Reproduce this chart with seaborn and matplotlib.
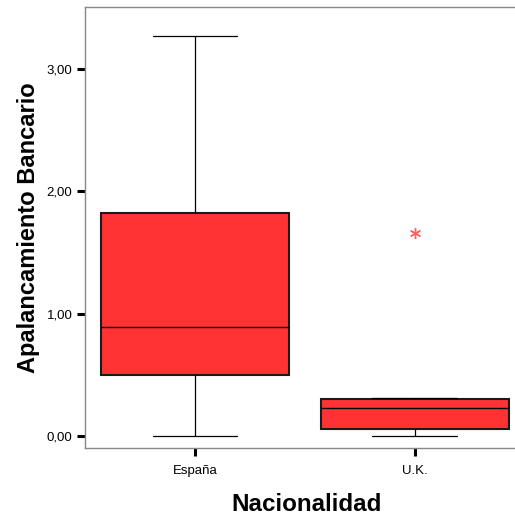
import numpy as np
import pandas as pd
import matplotlib
matplotlib.use("Agg")
import matplotlib.pyplot as plt
import seaborn as sns

# Values (chosen so quartiles/whiskers/outlier match)
groups = ["España", "U.K."]
espana_vals = [0.00, 0.50, 0.89, 1.82, 3.27]
uk_vals = [0.00, 0.03, 0.06, 0.15, 0.23, 0.27, 0.30, 0.31, 1.66]
y_ticks = [0.0, 1.0, 2.0, 3.0]
y_ticklabels = ["0,00", "1,00", "2,00", "3,00"]

df = pd.DataFrame({
    "Nacionalidad": [groups[0]] * len(espana_vals) + [groups[1]] * len(uk_vals),
    "valor": espana_vals + uk_vals,
})

sns.set_style("white")
plt.rcParams["font.family"] = ["Liberation Sans", "DejaVu Sans"]
plt.rcParams["text.color"] = "black"
plt.rcParams["axes.labelcolor"] = "black"
plt.rcParams["xtick.labelcolor"] = "black"
plt.rcParams["ytick.labelcolor"] = "black"

fig = plt.figure(figsize=(5.15, 5.2), dpi=100)
# plot frame runs past the right edge of the picture, as in the SPSS export
ax = fig.add_axes([0.165, 0.1385, 0.862, 0.848])

sns.boxplot(
    data=df, x="Nacionalidad", y="valor", order=groups,
    color="#ff3333", saturation=1, width=0.855, linecolor="black",
    linewidth=1.0, whis=1.5, ax=ax,
    boxprops={"linewidth": 1.5, "edgecolor": "#1a1a1a"},
    whiskerprops={"linewidth": 0.9, "color": "black"},
    capprops={"linewidth": 0.9, "color": "black"},
    medianprops={"linewidth": 1.0, "color": "black"},
    flierprops={"marker": (6, 2, 0), "markersize": 8,
                "markeredgecolor": "#ff6060", "markerfacecolor": "#ff6060",
                "markeredgewidth": 1.0},
)

# narrower whisker caps
for ln in ax.lines:
    xd, yd = np.asarray(ln.get_xdata(), float), np.asarray(ln.get_ydata(), float)
    if len(xd) == 2 and yd[0] == yd[1] and 0 < abs(xd[1] - xd[0]) < 0.6:
        c = xd.mean()
        ln.set_xdata([c - 0.193, c + 0.193])

ax.set_xlim(-0.5, 1.518)
ax.set_ylim(-0.098, 3.507)
ax.set_yticks(y_ticks)
ax.set_yticklabels(y_ticklabels)

for side in ["left", "bottom", "top", "right"]:
    ax.spines[side].set_visible(True)
    ax.spines[side].set_color("#888888")
    ax.spines[side].set_linewidth(1.0)

ax.tick_params(axis="y", direction="out", length=6, width=2.2, color="black",
               labelsize=9.5, pad=3, left=True)
ax.tick_params(axis="x", direction="out", length=6, width=2.2, color="black",
               labelsize=9.5, pad=6, bottom=True)

ax.set_xlabel("Nacionalidad", fontsize=17.4, fontweight="bold", labelpad=12)
ax.set_ylabel("Apalancamiento Bancario", fontsize=17, fontweight="bold", labelpad=5)

fig.savefig("out.png", dpi=100)
